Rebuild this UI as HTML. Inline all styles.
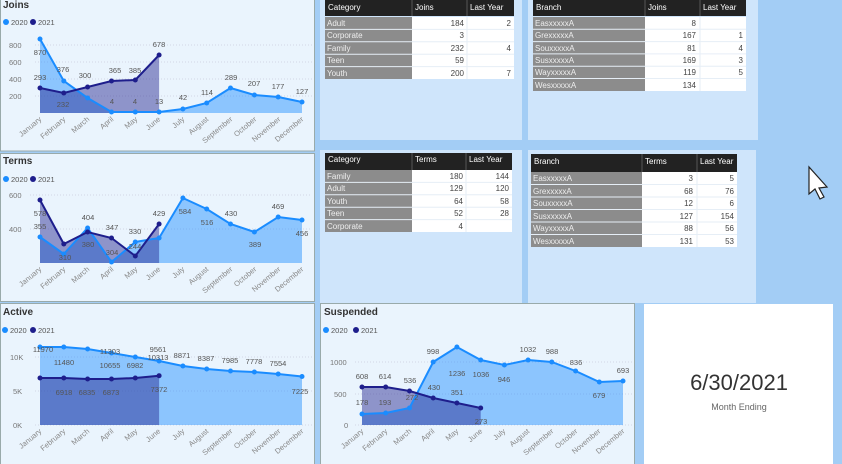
<!DOCTYPE html>
<html><head><meta charset="utf-8"><style>
html,body{margin:0;padding:0;background:#a3cdf5;}
svg{display:block;font-family:"Liberation Sans",sans-serif;}
.t{font-size:10px;fill:#333;font-weight:bold}
.lg{font-size:7.5px;fill:#555}
.ax{font-size:7.5px;fill:#777}
.dl{font-size:7.5px;fill:#555;text-anchor:middle}
.m{font-size:7.5px;fill:#888;text-anchor:end}
.th{font-size:8px;fill:#fff}
.tc{font-size:8px;fill:#eee}
.tn{font-size:8px;fill:#444;text-anchor:end}
.a20{fill:#1a8cff;fill-opacity:.45}
.a21{fill:#1e1e8c;fill-opacity:.45}
.l20{fill:none;stroke:#1a8cff;stroke-width:2}
.l21{fill:none;stroke:#1e1e8c;stroke-width:2}
.g{stroke:#ccd;stroke-dasharray:1 2;stroke-width:.8}
</style></head><body>
<svg width="842" height="464" viewBox="0 0 842 464">
<rect width="842" height="464" fill="#a3cdf5"/>
<!-- table panels -->
<rect x="320" y="0" width="202" height="140" fill="#cfe5fb"/>
<rect x="528" y="0" width="230" height="140" fill="#cfe5fb"/>
<rect x="320" y="150" width="202" height="153" fill="#cfe5fb"/>
<rect x="528" y="150" width="228" height="153" fill="#cfe5fb"/>
<!-- chart panels -->
<rect x="0.5" y="-1" width="314" height="152" fill="#eaf4fd" stroke="#9aa" />
<rect x="0.5" y="153.5" width="314" height="148" fill="#eaf4fd" stroke="#9aa"/>
<rect x="0.5" y="303.5" width="314" height="162" fill="#eaf4fd" stroke="#9aa"/>
<rect x="320.5" y="303.5" width="314" height="162" fill="#eaf4fd" stroke="#9aa"/>
<rect x="644" y="304" width="189" height="160" fill="#fff"/>
<text x="739" y="390" text-anchor="middle" style="font-size:22px;fill:#333">6/30/2021</text>
<text x="739" y="410" text-anchor="middle" style="font-size:9px;fill:#666">Month Ending</text>

<!-- JOINS -->
<text class="t" x="3" y="8">Joins</text>
<circle cx="6" cy="22" r="3" fill="#1a8cff"/><text class="lg" x="11" y="25">2020</text>
<circle cx="33" cy="22" r="3" fill="#1e1e8c"/><text class="lg" x="38" y="25">2021</text>
<text class="ax" x="9" y="48">800</text><text class="ax" x="9" y="65">600</text><text class="ax" x="9" y="82">400</text><text class="ax" x="9" y="99">200</text>
<line class="g" x1="35" x2="312" y1="45" y2="45"/><line class="g" x1="35" x2="312" y1="62" y2="62"/><line class="g" x1="35" x2="312" y1="79" y2="79"/><line class="g" x1="35" x2="312" y1="96" y2="96"/>
<polygon class="a20" points="40,39 63.8,81 87.6,98 111.5,112 135.3,112 159.1,112 182.9,109 206.7,103 230.5,88 254.4,95 278.2,97 302,102 302,113 40,113"/>
<polygon class="a21" points="40,88 63.8,93 87.6,87 111.5,81 135.3,80 159.1,55 159.1,113 40,113"/>
<polyline class="l20" points="40,39 63.8,81 87.6,98 111.5,112 135.3,112 159.1,112 182.9,109 206.7,103 230.5,88 254.4,95 278.2,97 302,102"/>
<polyline class="l21" points="40,88 63.8,93 87.6,87 111.5,81 135.3,80 159.1,55"/>
<g fill="#1a8cff"><circle cx="40" cy="39" r="2.5"/><circle cx="63.8" cy="81" r="2.5"/><circle cx="87.6" cy="98" r="2.5"/><circle cx="111.5" cy="112" r="2.5"/><circle cx="135.3" cy="112" r="2.5"/><circle cx="159.1" cy="112" r="2.5"/><circle cx="182.9" cy="109" r="2.5"/><circle cx="206.7" cy="103" r="2.5"/><circle cx="230.5" cy="88" r="2.5"/><circle cx="254.4" cy="95" r="2.5"/><circle cx="278.2" cy="97" r="2.5"/><circle cx="302" cy="102" r="2.5"/></g>
<g fill="#1e1e8c"><circle cx="40" cy="88" r="2.5"/><circle cx="63.8" cy="93" r="2.5"/><circle cx="87.6" cy="87" r="2.5"/><circle cx="111.5" cy="81" r="2.5"/><circle cx="135.3" cy="80" r="2.5"/><circle cx="159.1" cy="55" r="2.5"/></g>
<text class="dl" x="40" y="55">870</text><text class="dl" x="63" y="72">376</text><text class="dl" x="85" y="78">300</text><text class="dl" x="115" y="73">365</text><text class="dl" x="135" y="73">385</text><text class="dl" x="159" y="47">678</text>
<text class="dl" x="40" y="80">293</text><text class="dl" x="63" y="107">232</text><text class="dl" x="112" y="104">4</text><text class="dl" x="135" y="104">4</text><text class="dl" x="159" y="104">13</text><text class="dl" x="183" y="100">42</text><text class="dl" x="207" y="95">114</text><text class="dl" x="231" y="80">289</text><text class="dl" x="254" y="86">207</text><text class="dl" x="278" y="89">177</text><text class="dl" x="302" y="94">127</text>
<g class="m">
<text transform="translate(42,120) rotate(-40)">January</text><text transform="translate(66,120) rotate(-40)">February</text><text transform="translate(90,120) rotate(-40)">March</text><text transform="translate(114,120) rotate(-40)">April</text><text transform="translate(138,120) rotate(-40)">May</text><text transform="translate(161,120) rotate(-40)">June</text><text transform="translate(185,120) rotate(-40)">July</text><text transform="translate(209,120) rotate(-40)">August</text><text transform="translate(233,120) rotate(-40)">September</text><text transform="translate(257,120) rotate(-40)">October</text><text transform="translate(281,120) rotate(-40)">November</text><text transform="translate(304,120) rotate(-40)">December</text></g>

<!-- TERMS -->
<text class="t" x="3" y="164">Terms</text>
<circle cx="6" cy="179" r="3" fill="#1a8cff"/><text class="lg" x="11" y="182">2020</text>
<circle cx="33" cy="179" r="3" fill="#1e1e8c"/><text class="lg" x="38" y="182">2021</text>
<text class="ax" x="9" y="198">600</text><text class="ax" x="9" y="232">400</text>
<line class="g" x1="30" x2="312" y1="195" y2="195"/><line class="g" x1="30" x2="312" y1="229" y2="229"/>
<polygon class="a20" points="40,237 63.8,254 87.6,228 111.5,262 135.3,242 159.1,238 182.9,198 206.7,209 230.5,224 254.4,232 278.2,217 302,220 302,263 40,263"/>
<polygon class="a21" points="40,200 63.8,244 87.6,232 111.5,238 135.3,256 159.1,224 159.1,263 40,263"/>
<polyline class="l20" points="40,237 63.8,254 87.6,228 111.5,262 135.3,242 159.1,238 182.9,198 206.7,209 230.5,224 254.4,232 278.2,217 302,220"/>
<polyline class="l21" points="40,200 63.8,244 87.6,232 111.5,238 135.3,256 159.1,224"/>
<g fill="#1a8cff"><circle cx="40" cy="237" r="2.5"/><circle cx="63.8" cy="254" r="2.5"/><circle cx="87.6" cy="228" r="2.5"/><circle cx="111.5" cy="262" r="2.5"/><circle cx="135.3" cy="242" r="2.5"/><circle cx="159.1" cy="238" r="2.5"/><circle cx="182.9" cy="198" r="2.5"/><circle cx="206.7" cy="209" r="2.5"/><circle cx="230.5" cy="224" r="2.5"/><circle cx="254.4" cy="232" r="2.5"/><circle cx="278.2" cy="217" r="2.5"/><circle cx="302" cy="220" r="2.5"/></g>
<g fill="#1e1e8c"><circle cx="40" cy="200" r="2.5"/><circle cx="63.8" cy="244" r="2.5"/><circle cx="87.6" cy="232" r="2.5"/><circle cx="111.5" cy="238" r="2.5"/><circle cx="135.3" cy="256" r="2.5"/><circle cx="159.1" cy="224" r="2.5"/></g>
<text class="dl" x="40" y="216">578</text><text class="dl" x="40" y="229">355</text><text class="dl" x="65" y="260">310</text><text class="dl" x="88" y="220">404</text><text class="dl" x="88" y="247">380</text><text class="dl" x="112" y="230">347</text><text class="dl" x="112" y="255">304</text><text class="dl" x="135" y="234">330</text><text class="dl" x="135" y="249">244</text><text class="dl" x="159" y="216">429</text><text class="dl" x="185" y="214">584</text><text class="dl" x="207" y="225">516</text><text class="dl" x="231" y="216">430</text><text class="dl" x="255" y="247">389</text><text class="dl" x="278" y="209">469</text><text class="dl" x="302" y="236">456</text>
<g class="m">
<text transform="translate(42,270) rotate(-40)">January</text><text transform="translate(66,270) rotate(-40)">February</text><text transform="translate(90,270) rotate(-40)">March</text><text transform="translate(114,270) rotate(-40)">April</text><text transform="translate(138,270) rotate(-40)">May</text><text transform="translate(161,270) rotate(-40)">June</text><text transform="translate(185,270) rotate(-40)">July</text><text transform="translate(209,270) rotate(-40)">August</text><text transform="translate(233,270) rotate(-40)">September</text><text transform="translate(257,270) rotate(-40)">October</text><text transform="translate(281,270) rotate(-40)">November</text><text transform="translate(304,270) rotate(-40)">December</text></g>

<!-- ACTIVE -->
<text class="t" x="3" y="315">Active</text>
<circle cx="5" cy="330" r="3" fill="#1a8cff"/><text class="lg" x="10" y="333">2020</text>
<circle cx="33" cy="330" r="3" fill="#1e1e8c"/><text class="lg" x="38" y="333">2021</text>
<text class="ax" x="10" y="360">10K</text><text class="ax" x="13" y="394">5K</text><text class="ax" x="13" y="428">0K</text>
<line class="g" x1="35" x2="312" y1="357" y2="357"/><line class="g" x1="35" x2="312" y1="391" y2="391"/><line class="g" x1="35" x2="312" y1="425" y2="425"/>
<polygon class="a20" points="40,347 63.8,347 87.6,349 111.5,353 135.3,357 159.1,361 182.9,366 206.7,369 230.5,371 254.4,372 278.2,374 302,376.5 302,425 40,425"/>
<polygon class="a21" points="40,378 63.8,378 87.6,379 111.5,379 135.3,378 159.1,375.7 159.1,425 40,425"/>
<polyline class="l20" points="40,347 63.8,347 87.6,349 111.5,353 135.3,357 159.1,361 182.9,366 206.7,369 230.5,371 254.4,372 278.2,374 302,376.5"/>
<polyline class="l21" points="40,378 63.8,378 87.6,379 111.5,379 135.3,378 159.1,375.7"/>
<g fill="#1a8cff"><circle cx="40" cy="347" r="2.5"/><circle cx="63.8" cy="347" r="2.5"/><circle cx="87.6" cy="349" r="2.5"/><circle cx="111.5" cy="353" r="2.5"/><circle cx="135.3" cy="357" r="2.5"/><circle cx="159.1" cy="361" r="2.5"/><circle cx="182.9" cy="366" r="2.5"/><circle cx="206.7" cy="369" r="2.5"/><circle cx="230.5" cy="371" r="2.5"/><circle cx="254.4" cy="372" r="2.5"/><circle cx="278.2" cy="374" r="2.5"/><circle cx="302" cy="376.5" r="2.5"/></g>
<g fill="#1e1e8c"><circle cx="40" cy="378" r="2.5"/><circle cx="63.8" cy="378" r="2.5"/><circle cx="87.6" cy="379" r="2.5"/><circle cx="111.5" cy="379" r="2.5"/><circle cx="135.3" cy="378" r="2.5"/><circle cx="159.1" cy="375.7" r="2.5"/></g>
<text class="dl" x="43" y="352">11970</text><text class="dl" x="64" y="365">11480</text><text class="dl" x="110" y="354">11303</text><text class="dl" x="110" y="368">10655</text><text class="dl" x="135" y="368">6982</text><text class="dl" x="158" y="352">9561</text><text class="dl" x="158" y="360">10313</text><text class="dl" x="182" y="358">8871</text><text class="dl" x="206" y="361">8387</text><text class="dl" x="230" y="363">7985</text><text class="dl" x="254" y="364">7778</text><text class="dl" x="278" y="366">7554</text><text class="dl" x="300" y="394">7225</text>
<text class="dl" x="64" y="395">6918</text><text class="dl" x="87" y="395">6835</text><text class="dl" x="111" y="395">6873</text><text class="dl" x="159" y="392">7372</text>
<g class="m">
<text transform="translate(42,432) rotate(-40)">January</text><text transform="translate(66,432) rotate(-40)">February</text><text transform="translate(90,432) rotate(-40)">March</text><text transform="translate(114,432) rotate(-40)">April</text><text transform="translate(138,432) rotate(-40)">May</text><text transform="translate(161,432) rotate(-40)">June</text><text transform="translate(185,432) rotate(-40)">July</text><text transform="translate(209,432) rotate(-40)">August</text><text transform="translate(233,432) rotate(-40)">September</text><text transform="translate(257,432) rotate(-40)">October</text><text transform="translate(281,432) rotate(-40)">November</text><text transform="translate(304,432) rotate(-40)">December</text></g>

<!-- SUSPENDED -->
<text class="t" x="324" y="315">Suspended</text>
<circle cx="326" cy="330" r="3" fill="#1a8cff"/><text class="lg" x="331" y="333">2020</text>
<circle cx="356" cy="330" r="3" fill="#1e1e8c"/><text class="lg" x="361" y="333">2021</text>
<text class="ax" x="330" y="365">1000</text><text class="ax" x="334" y="397">500</text><text class="ax" x="344" y="428">0</text>
<line class="g" x1="355" x2="632" y1="362" y2="362"/><line class="g" x1="355" x2="632" y1="394" y2="394"/><line class="g" x1="355" x2="632" y1="425" y2="425"/>
<polygon class="a20" points="362,414 385.7,413 409.5,408 433.2,362 456.9,347 480.7,360 504.4,365 528.1,360 551.8,362 575.6,371 599.3,382 623,381 623,425 362,425"/>
<polygon class="a21" points="362,387 385.7,387 409.5,391 433.2,398 456.9,403 480.7,408 480.7,425 362,425"/>
<polyline class="l20" points="362,414 385.7,413 409.5,408 433.2,362 456.9,347 480.7,360 504.4,365 528.1,360 551.8,362 575.6,371 599.3,382 623,381"/>
<polyline class="l21" points="362,387 385.7,387 409.5,391 433.2,398 456.9,403 480.7,408"/>
<g fill="#1a8cff"><circle cx="362" cy="414" r="2.5"/><circle cx="385.7" cy="413" r="2.5"/><circle cx="409.5" cy="408" r="2.5"/><circle cx="433.2" cy="362" r="2.5"/><circle cx="456.9" cy="347" r="2.5"/><circle cx="480.7" cy="360" r="2.5"/><circle cx="504.4" cy="365" r="2.5"/><circle cx="528.1" cy="360" r="2.5"/><circle cx="551.8" cy="362" r="2.5"/><circle cx="575.6" cy="371" r="2.5"/><circle cx="599.3" cy="382" r="2.5"/><circle cx="623" cy="381" r="2.5"/></g>
<g fill="#1e1e8c"><circle cx="362" cy="387" r="2.5"/><circle cx="385.7" cy="387" r="2.5"/><circle cx="409.5" cy="391" r="2.5"/><circle cx="433.2" cy="398" r="2.5"/><circle cx="456.9" cy="403" r="2.5"/><circle cx="480.7" cy="408" r="2.5"/></g>
<text class="dl" x="362" y="379">608</text><text class="dl" x="385" y="379">614</text><text class="dl" x="410" y="383">536</text><text class="dl" x="362" y="405">178</text><text class="dl" x="385" y="405">193</text><text class="dl" x="412" y="400">272</text><text class="dl" x="433" y="354">998</text><text class="dl" x="434" y="390">430</text><text class="dl" x="457" y="376">1236</text><text class="dl" x="457" y="395">351</text><text class="dl" x="481" y="377">1036</text><text class="dl" x="481" y="424">273</text><text class="dl" x="504" y="382">946</text><text class="dl" x="528" y="352">1032</text><text class="dl" x="552" y="354">988</text><text class="dl" x="576" y="365">836</text><text class="dl" x="599" y="398">679</text><text class="dl" x="623" y="373">693</text>
<g class="m">
<text transform="translate(364,432) rotate(-40)">January</text><text transform="translate(388,432) rotate(-40)">February</text><text transform="translate(412,432) rotate(-40)">March</text><text transform="translate(435,432) rotate(-40)">April</text><text transform="translate(459,432) rotate(-40)">May</text><text transform="translate(483,432) rotate(-40)">June</text><text transform="translate(506,432) rotate(-40)">July</text><text transform="translate(530,432) rotate(-40)">August</text><text transform="translate(554,432) rotate(-40)">September</text><text transform="translate(578,432) rotate(-40)">October</text><text transform="translate(601,432) rotate(-40)">November</text><text transform="translate(625,432) rotate(-40)">December</text></g>

<!-- TABLE 1 -->
<rect x="325" y="0" width="189" height="16" fill="#222"/>
<text class="th" x="328" y="10">Category</text><text class="th" x="415" y="10">Joins</text><text class="th" x="470" y="10">Last Year</text>
<line x1="412" x2="412" y1="0" y2="16" stroke="#555"/><line x1="467" x2="467" y1="0" y2="16" stroke="#555"/>
<rect x="325" y="17" width="87" height="62" fill="#8c8c8c"/><rect x="412" y="17" width="102" height="62" fill="#fff"/>
<g stroke="#e6eef6"><line x1="325" x2="514" y1="29.4" y2="29.4"/><line x1="325" x2="514" y1="41.8" y2="41.8"/><line x1="325" x2="514" y1="54.2" y2="54.2"/><line x1="325" x2="514" y1="66.6" y2="66.6"/><line x1="467" x2="467" y1="17" y2="79"/></g>
<text class="tc" x="327" y="26">Adult</text><text class="tc" x="327" y="38">Corporate</text><text class="tc" x="327" y="51">Family</text><text class="tc" x="327" y="63">Teen</text><text class="tc" x="327" y="76">Youth</text>
<text class="tn" x="464" y="26">184</text><text class="tn" x="464" y="38">3</text><text class="tn" x="464" y="51">232</text><text class="tn" x="464" y="63">59</text><text class="tn" x="464" y="76">200</text>
<text class="tn" x="511" y="26">2</text><text class="tn" x="511" y="51">4</text><text class="tn" x="511" y="76">7</text>

<!-- TABLE 2 -->
<rect x="533" y="0" width="213" height="16" fill="#222"/>
<text class="th" x="536" y="10">Branch</text><text class="th" x="648" y="10">Joins</text><text class="th" x="703" y="10">Last Year</text>
<line x1="645" x2="645" y1="0" y2="16" stroke="#555"/><line x1="700" x2="700" y1="0" y2="16" stroke="#555"/>
<rect x="533" y="17" width="112" height="74" fill="#8c8c8c"/><rect x="645" y="17" width="101" height="74" fill="#fff"/>
<g stroke="#e6eef6"><line x1="533" x2="746" y1="29.3" y2="29.3"/><line x1="533" x2="746" y1="41.6" y2="41.6"/><line x1="533" x2="746" y1="53.9" y2="53.9"/><line x1="533" x2="746" y1="66.2" y2="66.2"/><line x1="533" x2="746" y1="78.5" y2="78.5"/><line x1="700" x2="700" y1="17" y2="91"/></g>
<text class="tc" x="535" y="26">EasxxxxxA</text><text class="tc" x="535" y="38">GrexxxxxA</text><text class="tc" x="535" y="51">SouxxxxxA</text><text class="tc" x="535" y="63">SusxxxxxA</text><text class="tc" x="535" y="75">WayxxxxxA</text><text class="tc" x="535" y="88">WesxxxxxA</text>
<text class="tn" x="696" y="26">8</text><text class="tn" x="696" y="38">167</text><text class="tn" x="696" y="51">81</text><text class="tn" x="696" y="63">169</text><text class="tn" x="696" y="75">119</text><text class="tn" x="696" y="88">134</text>
<text class="tn" x="743" y="38">1</text><text class="tn" x="743" y="51">4</text><text class="tn" x="743" y="63">3</text><text class="tn" x="743" y="75">5</text>

<!-- TABLE 3 -->
<rect x="325" y="153" width="187" height="17" fill="#222"/>
<text class="th" x="328" y="162">Category</text><text class="th" x="415" y="162">Terms</text><text class="th" x="469" y="162">Last Year</text>
<line x1="412" x2="412" y1="153" y2="170" stroke="#555"/><line x1="466" x2="466" y1="153" y2="170" stroke="#555"/>
<rect x="325" y="170" width="87" height="62" fill="#8c8c8c"/><rect x="412" y="170" width="100" height="62" fill="#fff"/>
<g stroke="#e6eef6"><line x1="325" x2="512" y1="182.4" y2="182.4"/><line x1="325" x2="512" y1="194.8" y2="194.8"/><line x1="325" x2="512" y1="207.2" y2="207.2"/><line x1="325" x2="512" y1="219.6" y2="219.6"/><line x1="466" x2="466" y1="170" y2="232"/></g>
<text class="tc" x="327" y="179">Family</text><text class="tc" x="327" y="191">Adult</text><text class="tc" x="327" y="204">Youth</text><text class="tc" x="327" y="216">Teen</text><text class="tc" x="327" y="229">Corporate</text>
<text class="tn" x="463" y="179">180</text><text class="tn" x="463" y="191">129</text><text class="tn" x="463" y="204">64</text><text class="tn" x="463" y="216">52</text><text class="tn" x="463" y="229">4</text>
<text class="tn" x="509" y="179">144</text><text class="tn" x="509" y="191">120</text><text class="tn" x="509" y="204">58</text><text class="tn" x="509" y="216">28</text>

<!-- TABLE 4 -->
<rect x="531" y="154" width="206" height="18" fill="#222"/>
<text class="th" x="534" y="164">Branch</text><text class="th" x="645" y="164">Terms</text><text class="th" x="700" y="164">Last Year</text>
<line x1="642" x2="642" y1="154" y2="172" stroke="#555"/><line x1="697" x2="697" y1="154" y2="172" stroke="#555"/>
<rect x="531" y="172" width="111" height="75" fill="#8c8c8c"/><rect x="642" y="172" width="95" height="75" fill="#fff"/>
<g stroke="#e6eef6"><line x1="531" x2="737" y1="184.5" y2="184.5"/><line x1="531" x2="737" y1="197" y2="197"/><line x1="531" x2="737" y1="209.5" y2="209.5"/><line x1="531" x2="737" y1="222" y2="222"/><line x1="531" x2="737" y1="234.5" y2="234.5"/><line x1="697" x2="697" y1="172" y2="247"/></g>
<text class="tc" x="533" y="181">EasxxxxxA</text><text class="tc" x="533" y="194">GrexxxxxA</text><text class="tc" x="533" y="206">SouxxxxxA</text><text class="tc" x="533" y="219">SusxxxxxA</text><text class="tc" x="533" y="231">WayxxxxxA</text><text class="tc" x="533" y="244">WesxxxxxA</text>
<text class="tn" x="693" y="181">3</text><text class="tn" x="693" y="194">68</text><text class="tn" x="693" y="206">12</text><text class="tn" x="693" y="219">127</text><text class="tn" x="693" y="231">88</text><text class="tn" x="693" y="244">131</text>
<text class="tn" x="734" y="181">5</text><text class="tn" x="734" y="194">76</text><text class="tn" x="734" y="206">6</text><text class="tn" x="734" y="219">154</text><text class="tn" x="734" y="231">56</text><text class="tn" x="734" y="244">53</text>

<!-- cursor -->
<polygon points="809,167 809,194 815,189 820,199 824,197 819,188 827,187" fill="#fff" stroke="#222" stroke-width="1.2"/>
</svg>
</body></html>
